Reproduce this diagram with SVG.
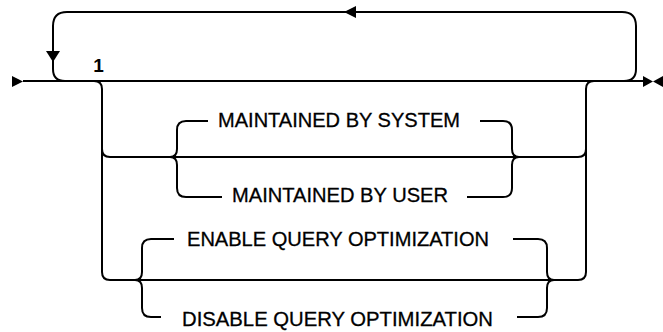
<svg xmlns="http://www.w3.org/2000/svg" width="663" height="332" viewBox="0 0 663 332">
<style>
.ln{fill:none;stroke:#000;stroke-width:2;stroke-linecap:butt;stroke-linejoin:round}
.ah{fill:#000;stroke:none}
.t{font-family:"Liberation Sans","Noto Sans",Arial,sans-serif;font-size:20px;fill:#000;stroke:#000;stroke-width:0.3}
.n{font-family:"Liberation Sans","Noto Sans",Arial,sans-serif;font-size:19px;font-weight:bold;fill:#000}
</style>
<rect width="663" height="332" fill="#fff"/>
<g id="connectors">
<path class="ln" d="M23 81 H643"/>
<path class="ln" d="M624 81 Q636 81 636 69 V26 Q636 12 622 12 H67 Q53 12 53 26 V69 Q53 81 65 81"/>
<path class="ln" d="M94 81 Q102 81 102 89 V272 Q102 280 110 280 H578 Q586 280 586 272 V89 Q586 81 594 81"/>
<path class="ln" d="M102 149 Q102 157 110 157 H578 Q586 157 586 149"/>
<path class="ln" d="M208 121 H186 Q177 121 177 130 V149 Q177 157 170 157 Q177 157 177 165 V188 Q177 197 186 197 H222"/>
<path class="ln" d="M480 121 H503 Q512 121 512 130 V149 Q512 157 519 157 Q512 157 512 165 V188 Q512 197 503 197 H467"/>
<path class="ln" d="M174 239 H151 Q142 239 142 248 V272 Q142 280 135 280 Q142 280 142 288 V308 Q142 317 151 317 H161"/>
<path class="ln" d="M513 239 H538 Q547 239 547 248 V272 Q547 280 554 280 Q547 280 547 288 V308 Q547 317 538 317 H517"/>
<polygon class="ah" points="12,76 23,81.5 12,87"/>
<polygon class="ah" points="643,76 653,81.5 643,87"/>
<polygon class="ah" points="663,76 653,81.5 663,87"/>
<polygon class="ah" points="46,51 60,51 53,62"/>
<polygon class="ah" points="356,6 356,18 344,12"/>
</g>
<g id="label-1"><text class="n" x="98.5" y="72" text-anchor="middle">1</text></g>
<g id="maintained-by-system"><text class="t" x="218" y="127" textLength="242" lengthAdjust="spacingAndGlyphs">MAINTAINED BY SYSTEM</text></g>
<g id="maintained-by-user"><text class="t" x="232" y="202" textLength="216" lengthAdjust="spacingAndGlyphs">MAINTAINED BY USER</text></g>
<g id="enable-query-optimization"><text class="t" x="187" y="246" textLength="302" lengthAdjust="spacingAndGlyphs">ENABLE QUERY OPTIMIZATION</text></g>
<g id="disable-query-optimization"><text class="t" x="182" y="326" textLength="311" lengthAdjust="spacingAndGlyphs">DISABLE QUERY OPTIMIZATION</text></g>
</svg>
